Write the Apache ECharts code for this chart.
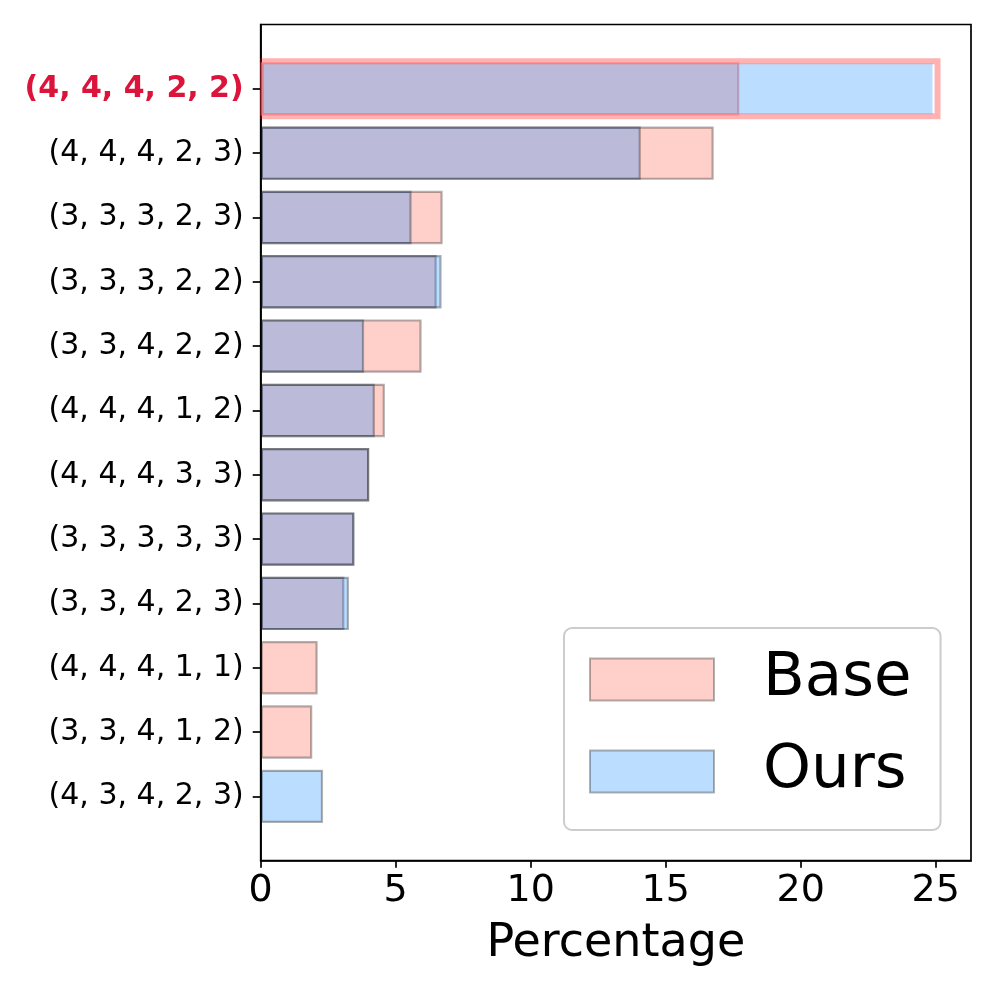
<!DOCTYPE html>
<html>
<head>
<meta charset="utf-8">
<script src="https://cdn.jsdelivr.net/npm/echarts@6/dist/echarts.min.js"></script>
<style>
html,body{margin:0;padding:0;background:#fff;}
#chart{width:996px;height:996px;}
</style>
</head>
<body>
<div id="chart"></div>
<script>
// ---- data ----
const categories = ['(4, 4, 4, 2, 2)', '(4, 4, 4, 2, 3)', '(3, 3, 3, 2, 3)', '(3, 3, 3, 2, 2)',
  '(3, 3, 4, 2, 2)', '(4, 4, 4, 1, 2)', '(4, 4, 4, 3, 3)', '(3, 3, 3, 3, 3)',
  '(3, 3, 4, 2, 3)', '(4, 4, 4, 1, 1)', '(3, 3, 4, 1, 2)', '(4, 3, 4, 2, 3)'];
const baseValues = [17.73, 16.78, 6.74, 6.52, 5.96, 4.60, 4.02, 3.47, 3.10, 2.11, 1.91, 0];
const oursValues = [24.94, 14.08, 5.59, 6.70, 3.83, 4.23, 4.02, 3.47, 3.27, 0, 0, 2.31];
const xTicks = [0, 5, 10, 15, 20, 25];
const xMax = 26.31;
const highlightCategory = '(4, 4, 4, 2, 2)';
const highlightExtent = 25.07;

// ---- build ----
const FONT = 'DejaVu Sans';
const yData = [''].concat(categories, ['']);
const edge = 'rgba(0,0,0,0.3)';
function buildSeries(vals, topBorder) {
  const out = ['-'];
  vals.forEach((v, i) => {
    if (!v) { out.push('-'); return; }
    if (categories[i] === highlightCategory) {
      out.push({ value: v, itemStyle: { borderColor: topBorder } });
    } else out.push(v);
  });
  out.push('-');
  return out;
}

const chart = echarts.init(document.getElementById('chart'), null, { renderer: 'canvas' });
const option = {
  animation: false,
  backgroundColor: '#ffffff',
  textStyle: { fontFamily: FONT },
  grid: {
    left: 260.7, right: 25, top: 24.5, bottom: 135.3,
    show: true, borderColor: '#000', borderWidth: 1.7, backgroundColor: 'transparent'
  },
  legend: {
    data: [
      { name: 'Base', icon: 'rect', itemStyle: { color: 'rgba(255,110,90,0.33)', borderColor: 'rgba(0,0,0,0.3)', borderWidth: 2 } },
      { name: 'Ours', icon: 'rect', itemStyle: { color: 'rgba(30,144,255,0.3)', borderColor: 'rgba(0,0,0,0.3)', borderWidth: 2 } }
    ],
    orient: 'vertical',
    left: 564, top: 628,
    itemWidth: 124, itemHeight: 42, itemGap: 31,
    padding: [21, 29, 28, 25],
    backgroundColor: 'rgba(255,255,255,0.8)',
    borderColor: '#cccccc', borderWidth: 2, borderRadius: 8,
    textStyle: { fontSize: 61, lineHeight: 60, color: '#000', fontFamily: FONT, padding: [0, 0, 0, 44] }
  },
  xAxis: {
    type: 'value', min: 0, max: xMax,
    name: 'Percentage', nameLocation: 'middle', nameGap: 60,
    nameTextStyle: { fontSize: 46, color: '#000', fontFamily: FONT },
    axisLine: { show: true, lineStyle: { color: '#000', width: 1.7 } },
    axisTick: { show: true, length: 7, lineStyle: { color: '#000', width: 1.7 }, customValues: xTicks },
    axisLabel: { fontSize: 38, color: '#000', margin: 11, fontFamily: FONT, customValues: xTicks },
    splitLine: { show: false }
  },
  yAxis: {
    type: 'category', data: yData, boundaryGap: false, inverse: true,
    axisLine: { show: true, lineStyle: { color: '#000', width: 1.7 } },
    axisTick: { show: true, length: 8, lineStyle: { color: '#000', width: 1.7 },
      interval: (i, v) => v !== '' },
    axisLabel: {
      interval: 0, fontSize: 30, color: '#000', margin: 17, fontFamily: FONT,
      formatter: v => v === highlightCategory ? '{hl|' + v + '}' : v,
      rich: { hl: { color: '#DC143C', fontWeight: 'bold', fontSize: 30, fontFamily: FONT } }
    },
    splitLine: { show: false }
  },
  series: [
    {
      name: 'Base', type: 'bar', barWidth: '83%', barGap: '-100%',
      itemStyle: { color: 'rgba(255,110,90,0.33)', borderColor: edge, borderWidth: 2.2 },
      data: buildSeries(baseValues, 'rgba(255,0,0,0.3)')
    },
    {
      name: 'Ours', type: 'bar', barWidth: '83%', barGap: '-100%',
      itemStyle: { color: 'rgba(30,144,255,0.3)', borderColor: edge, borderWidth: 2.2 },
      data: buildSeries(oursValues, 'rgba(255,255,255,0.4)')
    },
    {
      name: 'highlight', type: 'custom', z: 5, clip: true,
      data: [[highlightExtent, highlightCategory]],
      encode: { x: 0, y: 1 },
      renderItem: function (params, api) {
        const yi = api.value(1);
        const p0 = api.coord([0, yi]);
        const p1 = api.coord([api.value(0), yi]);
        const h = api.size([0, 1])[1] * 0.856;
        return {
          type: 'rect',
          shape: { x: p0[0], y: p0[1] - h / 2, width: p1[0] - p0[0], height: h },
          style: { fill: 'none', stroke: 'rgba(255,0,0,0.3)', lineWidth: 6 }
        };
      }
    }
  ]
};
chart.setOption(option);
</script>
</body>
</html>
